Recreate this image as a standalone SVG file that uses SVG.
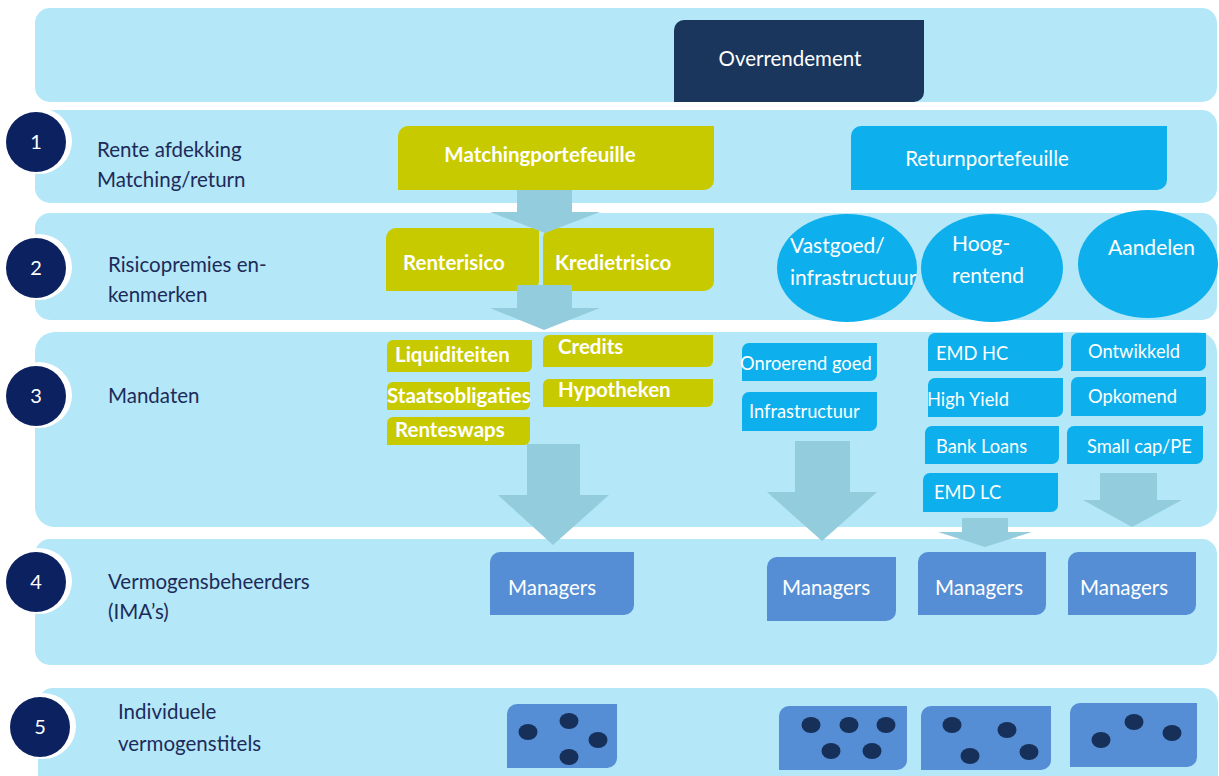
<svg xmlns="http://www.w3.org/2000/svg" width="1219" height="776" viewBox="0 0 1219 776">
<style>
.bg{fill:#ffffff}
.band{fill:#b4e7f8}
.ring{fill:#ffffff}
.num{fill:#0c2160}
.numt{font-family:Lato,"Liberation Sans",sans-serif;font-size:20px;fill:#ffffff;text-anchor:middle}
.lbl{font-family:Lato,"Liberation Sans",sans-serif;font-size:20.5px;fill:#1c2b5a}
.olive{fill:#c8ca00}
.cyan{fill:#0db0ec}
.navy{fill:#1a365d}
.mgr{fill:#558ed5}
.dot{fill:#16305a}
.tw{font-family:Lato,"Liberation Sans",sans-serif;font-size:20.5px;fill:#ffffff}
.ts{font-family:Lato,"Liberation Sans",sans-serif;font-size:18.3px;fill:#ffffff}
.tb{font-family:Lato,"Liberation Sans",sans-serif;font-size:20.5px;font-weight:bold;fill:#ffffff}
.te{font-family:Lato,"Liberation Sans",sans-serif;font-size:21px;fill:#ffffff}
.arr{fill:#93cddd}
</style>
<rect class="bg" x="0" y="0" width="1219" height="776"/>
<g id="bands">
<rect class="band" x="35" y="8" width="1182" height="94" rx="15"/>
<rect class="band" x="35" y="110" width="1182" height="93" rx="15"/>
<rect class="band" x="35" y="213" width="1182" height="107" rx="15"/>
<rect class="band" x="35" y="332" width="1182" height="195" rx="20"/>
<rect class="band" x="35" y="539" width="1182" height="126" rx="15"/>
<rect class="band" x="38" y="688" width="1180" height="110" rx="15"/>
</g>
<g id="level1">
<circle class="ring" cx="39" cy="141" r="33"/><circle class="num" cx="36" cy="142" r="30"/>
<text class="numt" x="36" y="149">1</text>
<text class="lbl" x="97" y="157">Rente afdekking</text>
<text class="lbl" x="97" y="187">Matching/return</text>
</g>
<g id="level2">
<circle class="ring" cx="39" cy="267" r="33"/><circle class="num" cx="36" cy="268" r="30"/>
<text class="numt" x="36" y="275">2</text>
<text class="lbl" x="108" y="272">Risicopremies en-</text>
<text class="lbl" x="108" y="302">kenmerken</text>
</g>
<g id="level3">
<circle class="ring" cx="39" cy="395" r="33"/><circle class="num" cx="36" cy="396" r="30"/>
<text class="numt" x="36" y="403">3</text>
<text class="lbl" x="108" y="403">Mandaten</text>
</g>
<g id="level4">
<circle class="ring" cx="39" cy="581" r="33"/><circle class="num" cx="36" cy="582" r="30"/>
<text class="numt" x="36" y="589">4</text>
<text class="lbl" x="108" y="589">Vermogensbeheerders</text>
<text class="lbl" x="108" y="619">(IMA’s)</text>
</g>
<g id="level5">
<circle class="ring" cx="43" cy="726" r="33"/><circle class="num" cx="40" cy="727" r="30"/>
<text class="numt" x="40" y="734">5</text>
<text class="lbl" x="118" y="719">Individuele</text>
<text class="lbl" x="118" y="751">vermogenstitels</text>
</g>
<g id="overrendement"><path class="navy" d="M684,20 H924 V92 A10,10 0 0 1 914,102 H674 V30 A10,10 0 0 1 684,20 Z"/><text class="tw" x="790" y="66" text-anchor="middle">Overrendement</text></g>
<g id="matchingportefeuille"><path class="olive" d="M408,126 H714 V180 A10,10 0 0 1 704,190 H398 V136 A10,10 0 0 1 408,126 Z"/><text class="tb" x="540" y="162" text-anchor="middle">Matchingportefeuille</text></g>
<g id="returnportefeuille"><path class="cyan" d="M861,126 H1167 V180 A10,10 0 0 1 1157,190 H851 V136 A10,10 0 0 1 861,126 Z"/><text class="tw" x="987" y="166" text-anchor="middle">Returnportefeuille</text></g>
<g id="renterisico"><path class="olive" d="M396,228 H539 V281 A10,10 0 0 1 529,291 H386 V238 A10,10 0 0 1 396,228 Z"/><text class="tb" x="403" y="270">Renterisico</text></g>
<g id="kredietrisico"><path class="olive" d="M553,228 H714 V281 A10,10 0 0 1 704,291 H543 V238 A10,10 0 0 1 553,228 Z"/><text class="tb" x="555" y="270">Kredietrisico</text></g>
<g id="vastgoed"><ellipse class="cyan" cx="847" cy="268" rx="70" ry="54"/><text class="te" x="790" y="253">Vastgoed/</text><text class="te" x="790" y="285">infrastructuur</text></g>
<g id="hoogrentend"><ellipse class="cyan" cx="992" cy="268" rx="71" ry="54"/><text class="te" x="952" y="251">Hoog-</text><text class="te" x="952" y="283">rentend</text></g>
<g id="aandelen"><ellipse class="cyan" cx="1148" cy="264" rx="70" ry="54"/><text class="te" x="1108" y="255">Aandelen</text></g>
<g id="liquiditeiten"><path class="olive" d="M393,340 H532 V366 A6,6 0 0 1 526,372 H387 V346 A6,6 0 0 1 393,340 Z"/><text class="tb" x="395" y="362">Liquiditeiten</text></g>
<g id="staatsobligaties"><path class="olive" d="M393,382 H530 V404 A6,6 0 0 1 524,410 H387 V388 A6,6 0 0 1 393,382 Z"/><text class="tb" x="387" y="403">Staatsobligaties</text></g>
<g id="renteswaps"><path class="olive" d="M393,417 H530 V439 A6,6 0 0 1 524,445 H387 V423 A6,6 0 0 1 393,417 Z"/><text class="tb" x="395" y="437">Renteswaps</text></g>
<g id="credits"><path class="olive" d="M549,335 H713 V361 A6,6 0 0 1 707,367 H543 V341 A6,6 0 0 1 549,335 Z"/><text class="tb" x="558" y="354">Credits</text></g>
<g id="hypotheken"><path class="olive" d="M549,379 H713 V401 A6,6 0 0 1 707,407 H543 V385 A6,6 0 0 1 549,379 Z"/><text class="tb" x="558" y="397">Hypotheken</text></g>
<g id="onroerendgoed"><path class="cyan" d="M749,343 H877 V374 A7,7 0 0 1 870,381 H742 V350 A7,7 0 0 1 749,343 Z"/><text class="ts" x="740" y="370">Onroerend goed</text></g>
<g id="infrastructuur"><path class="cyan" d="M749,392 H877 V424 A7,7 0 0 1 870,431 H742 V399 A7,7 0 0 1 749,392 Z"/><text class="ts" x="749" y="418">Infrastructuur</text></g>
<g id="emdhc"><path class="cyan" d="M935,333 H1063 V364 A7,7 0 0 1 1056,371 H928 V340 A7,7 0 0 1 935,333 Z"/><text class="ts" x="936" y="360">EMD HC</text></g>
<g id="highyield"><path class="cyan" d="M935,378 H1063 V410 A7,7 0 0 1 1056,417 H928 V385 A7,7 0 0 1 935,378 Z"/><text class="ts" x="927" y="406">High Yield</text></g>
<g id="bankloans"><path class="cyan" d="M932,426 H1059 V457 A7,7 0 0 1 1052,464 H925 V433 A7,7 0 0 1 932,426 Z"/><text class="ts" x="936" y="453">Bank Loans</text></g>
<g id="emdlc"><path class="cyan" d="M930,473 H1058 V505 A7,7 0 0 1 1051,512 H923 V480 A7,7 0 0 1 930,473 Z"/><text class="ts" x="934" y="499">EMD LC</text></g>
<g id="ontwikkeld"><path class="cyan" d="M1078,333 H1206 V364 A7,7 0 0 1 1199,371 H1071 V340 A7,7 0 0 1 1078,333 Z"/><text class="ts" x="1088" y="358">Ontwikkeld</text></g>
<g id="opkomend"><path class="cyan" d="M1078,377 H1206 V409 A7,7 0 0 1 1199,416 H1071 V384 A7,7 0 0 1 1078,377 Z"/><text class="ts" x="1088" y="403">Opkomend</text></g>
<g id="smallcap"><path class="cyan" d="M1074,426 H1203 V457 A7,7 0 0 1 1196,464 H1067 V433 A7,7 0 0 1 1074,426 Z"/><text class="ts" x="1087" y="453">Small cap/PE</text></g>
<g id="managers1"><path class="mgr" d="M500,552 H634 V605 A10,10 0 0 1 624,615 H490 V562 A10,10 0 0 1 500,552 Z"/><text class="tw" x="508" y="595">Managers</text></g>
<g id="managers2"><path class="mgr" d="M777,557 H896 V611 A10,10 0 0 1 886,621 H767 V567 A10,10 0 0 1 777,557 Z"/><text class="tw" x="782" y="595">Managers</text></g>
<g id="managers3"><path class="mgr" d="M928,552 H1046 V605 A10,10 0 0 1 1036,615 H918 V562 A10,10 0 0 1 928,552 Z"/><text class="tw" x="935" y="595">Managers</text></g>
<g id="managers4"><path class="mgr" d="M1078,552 H1196 V605 A10,10 0 0 1 1186,615 H1068 V562 A10,10 0 0 1 1078,552 Z"/><text class="tw" x="1080" y="595">Managers</text></g>
<g id="titels1"><path class="mgr" d="M517,704 H617 V758 A10,10 0 0 1 607,768 H507 V714 A10,10 0 0 1 517,704 Z"/>
<ellipse class="dot" cx="528" cy="732" rx="9.5" ry="8"/><ellipse class="dot" cx="569" cy="721" rx="9.5" ry="8"/><ellipse class="dot" cx="598" cy="740" rx="9.5" ry="8"/><ellipse class="dot" cx="569" cy="757" rx="9.5" ry="8"/></g>
<g id="titels2"><path class="mgr" d="M789,706 H907 V760 A10,10 0 0 1 897,770 H779 V716 A10,10 0 0 1 789,706 Z"/>
<ellipse class="dot" cx="811" cy="725" rx="9.5" ry="8"/><ellipse class="dot" cx="849" cy="725" rx="9.5" ry="8"/><ellipse class="dot" cx="886" cy="725" rx="9.5" ry="8"/><ellipse class="dot" cx="831" cy="751" rx="9.5" ry="8"/><ellipse class="dot" cx="872" cy="751" rx="9.5" ry="8"/></g>
<g id="titels3"><path class="mgr" d="M931,706 H1051 V760 A10,10 0 0 1 1041,770 H921 V716 A10,10 0 0 1 931,706 Z"/>
<ellipse class="dot" cx="952" cy="725" rx="9.5" ry="8"/><ellipse class="dot" cx="1007" cy="730" rx="9.5" ry="8"/><ellipse class="dot" cx="970" cy="756" rx="9.5" ry="8"/><ellipse class="dot" cx="1029" cy="752" rx="9.5" ry="8"/></g>
<g id="titels4"><path class="mgr" d="M1080,703 H1197 V757 A10,10 0 0 1 1187,767 H1070 V713 A10,10 0 0 1 1080,703 Z"/>
<ellipse class="dot" cx="1101" cy="740" rx="9.5" ry="8"/><ellipse class="dot" cx="1134" cy="722" rx="9.5" ry="8"/><ellipse class="dot" cx="1172" cy="733" rx="9.5" ry="8"/></g>
<g id="connectors">
<polygon class="arr" points="517,190 572,190 572,212 600,212 545,233 490,212 517,212"/>
<polygon class="arr" points="517,285 572,285 572,308 600,308 544,330 490,308 517,308"/>
<polygon class="arr" points="527,444 580,444 580,495 609,495 553,545 498,495 527,495"/>
<polygon class="arr" points="795,441 850,441 850,492 877,492 822,541 767,492 795,492"/>
<polygon class="arr" points="962,518 1008,518 1008,532 1032,532 985,547 938,532 962,532"/>
<polygon class="arr" points="1100,473 1157,473 1157,500 1182,500 1132,527 1083,500 1100,500"/>
</g>
</svg>
